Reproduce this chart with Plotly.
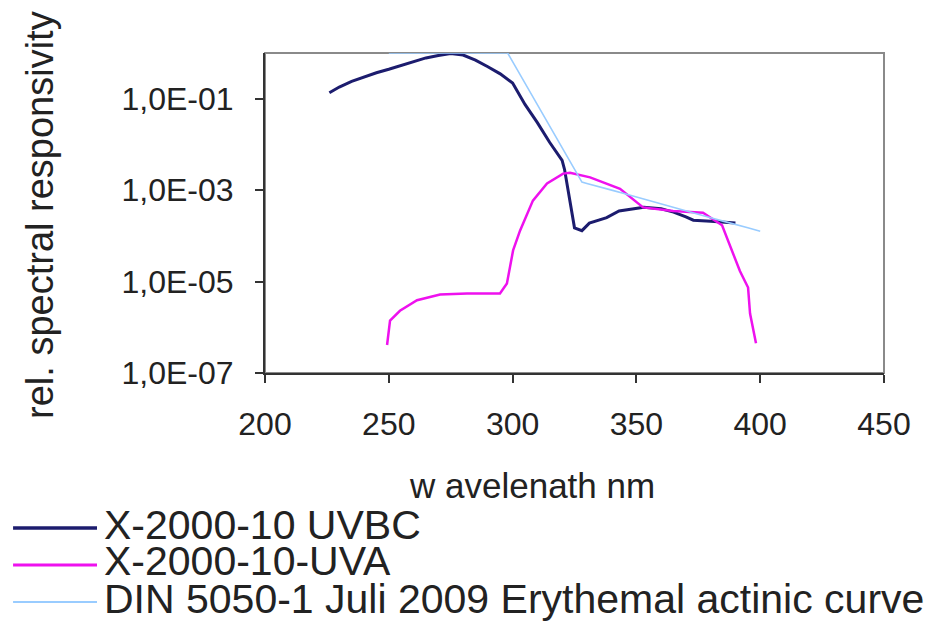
import plotly.graph_objects as go

# wavelength (nm) and relative spectral responsivity
uvbc_nm = [226, 230, 235, 240, 245, 250, 255, 260, 265, 270, 275, 280, 285, 290,
           295, 300, 305, 310, 315, 320, 321, 325, 328, 331, 338, 343, 350, 353,
           360, 365, 370, 373, 380, 387, 390]
uvbc_val = [0.135, 0.18, 0.24, 0.30, 0.37, 0.44, 0.53, 0.65, 0.78, 0.88, 0.97, 0.90,
            0.70, 0.50, 0.35, 0.22, 0.075, 0.030, 0.011, 0.0045, 0.0028, 1.5e-4,
            1.3e-4, 1.9e-4, 2.5e-4, 3.5e-4, 4.0e-4, 4.2e-4, 3.9e-4, 3.3e-4, 2.6e-4,
            2.2e-4, 2.1e-4, 2.0e-4, 1.9e-4]

uva_nm = [249.3, 250.5, 254.5, 261.4, 270.7, 281.6, 294.9, 297.7, 300.2, 303.0,
          308.2, 313.9, 320.4, 323.2, 331.3, 343.4, 352.7, 364.8, 376.9, 384.6,
          391.8, 395.1, 395.9, 398.3]
uva_val = [4.1e-7, 1.4e-6, 2.3e-6, 3.9e-6, 5.2e-6, 5.5e-6, 5.5e-6, 9.1e-6, 4.8e-5,
           1.3e-4, 5.9e-4, 1.4e-3, 2.3e-3, 2.4e-3, 1.9e-3, 1.07e-3, 4.2e-4, 3.5e-4,
           3.2e-4, 1.7e-4, 1.7e-5, 7.4e-6, 2.0e-6, 4.5e-7]

din_nm = [250, 298, 300, 305, 310, 315, 320, 325, 328, 330, 335, 340, 345, 350,
          355, 360, 365, 370, 375, 380, 385, 390, 395, 400]
din_val = [1.0, 1.0, 0.65, 0.22, 0.074, 0.025, 0.0086, 0.0029, 0.0015, 0.0014,
           0.0012, 0.0010, 8.4e-4, 7.1e-4, 6.0e-4, 5.0e-4, 4.2e-4, 3.5e-4, 3.0e-4,
           2.5e-4, 2.1e-4, 1.8e-4, 1.5e-4, 1.26e-4]

y_tickvals = [1e-7, 1e-5, 1e-3, 1e-1]
y_ticktext = ["1,0E-07", "1,0E-05", "1,0E-03", "1,0E-01"]
x_tickvals = [200, 250, 300, 350, 400, 450]

names = ["X-2000-10 UVBC", "X-2000-10-UVA", "DIN 5050-1 Juli 2009 Erythemal actinic curve"]
colors = ["#1c1c6e", "#ee11ee", "#99ccff"]
widths = [3, 2.5, 1.6]

FONT = "Arial, Liberation Sans, sans-serif"
TXT = "#222222"

fig = go.Figure()
for xs, ys, name, c, w in zip([uvbc_nm, uva_nm, din_nm], [uvbc_val, uva_val, din_val],
                              names, colors, widths):
    fig.add_trace(go.Scatter(x=xs, y=ys, mode="lines", name=name,
                             line=dict(color=c, width=w), showlegend=False))

fig.update_xaxes(range=[200, 450], tickvals=x_tickvals, ticks="outside", ticklen=8,
                 tickwidth=1.5, tickcolor="#333", showline=True, linecolor="#333",
                 linewidth=2, showgrid=False, zeroline=False, ticklabelstandoff=14,
                 automargin=False, tickfont=dict(family=FONT, size=32, color=TXT))
fig.update_yaxes(type="log", range=[-7, 0], tickvals=y_tickvals, ticktext=y_ticktext,
                 ticks="outside", ticklen=8, tickwidth=1.5, tickcolor="#333",
                 showline=True, linecolor="#333", linewidth=2, showgrid=False,
                 zeroline=False, ticklabelstandoff=15, automargin=False,
                 tickfont=dict(family=FONT, size=32, color=TXT))

# plot-area frame (grey), drawn under the curves
fig.add_shape(type="rect", xref="paper", yref="paper", x0=0, y0=0, x1=1, y1=1,
              line=dict(color="#8a8a8a", width=2), layer="below")

# axis titles
fig.add_annotation(text="w avelenath nm", xref="paper", yref="paper", x=0.431, y=-0.35,
                   xanchor="center", yanchor="middle", showarrow=False,
                   font=dict(family=FONT, size=35, color=TXT))
fig.add_annotation(text="rel. spectral responsivity", xref="paper", yref="paper",
                   x=-0.3635, y=0.494, textangle=-90, xanchor="center", yanchor="middle",
                   showarrow=False, font=dict(family=FONT, size=38, color=TXT))

# legend below the plot, drawn by hand to keep the tight row spacing
line_y = [-0.4844, -0.6, -0.7156]
text_y = [-0.475, -0.5875, -0.70625]
for name, c, w, ly, ty in zip(names, colors, widths, line_y, text_y):
    fig.add_shape(type="line", xref="paper", yref="paper", x0=-0.407, x1=-0.2714,
                  y0=ly, y1=ly, line=dict(color=c, width=w + 0.5))
    fig.add_annotation(text=name, xref="paper", yref="paper", x=-0.2633, y=ty,
                       xanchor="left", yanchor="middle", showarrow=False,
                       font=dict(family=FONT, size=41, color=TXT))

# the page puts the figure 8px in from the top-left corner
fig.update_layout(width=939, height=623, margin=dict(l=257, r=63, t=45, b=258),
                  plot_bgcolor="white", paper_bgcolor="white")

fig.write_html("out.html")
